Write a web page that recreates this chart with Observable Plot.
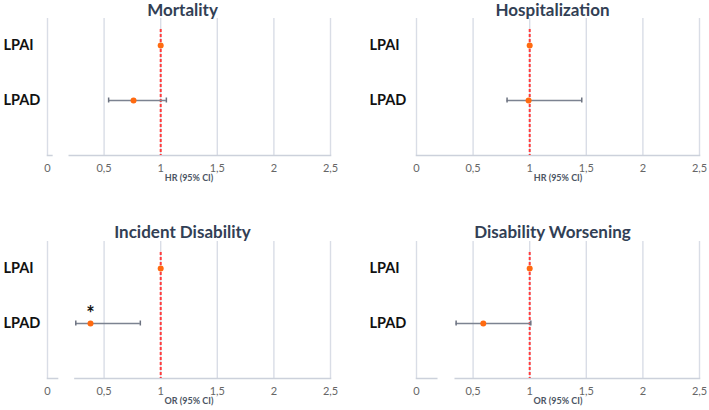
<!DOCTYPE html>
<html>
<head>
<meta charset="utf-8">
<script src="https://cdn.jsdelivr.net/npm/d3@7"></script>
<script src="https://cdn.jsdelivr.net/npm/@observablehq/plot@0.6"></script>
<style>
  html, body { margin: 0; padding: 0; background: #fff; }
  #wrap { position: relative; width: 709px; height: 410px; overflow: hidden; font-family: Lato, "Open Sans", sans-serif; }
  .panel { position: absolute; }
</style>
</head>
<body>
<div id="wrap"></div>
<script>
// ---- data ----
const titles = ["Mortality", "Hospitalization", "Incident Disability", "Disability Worsening"];
const measures = ["HR (95% CI)", "HR (95% CI)", "OR (95% CI)", "OR (95% CI)"];
const rows = ["LPAI", "LPAD"];
const lpaiEst = [1, 1, 1, 1];
const lpadEst = [0.76, 0.99, 0.38, 0.59];
const lpadLow = [0.54, 0.80, 0.25, 0.35];
const lpadHigh = [1.05, 1.46, 0.82, 1.01];
const significant = [false, false, true, false];
const xTicks = [0, 0.5, 1, 1.5, 2, 2.5];
const xTickLabels = ["0", "0,5", "1", "1,5", "2", "2,5"];
const referenceValue = 1;
// baseline axis break (in data units), null = no break
const breakStart = [0.05, null, 0.10, 0.19];
const breakEnd = [0.19, null, 0.24, 0.34];

// ---- layout ----
const W = 354, H = 205;
const places = [
  {left: 0, top: 0, ml: 47, mr: 24, mt: 18, mb: 50, it: 27, ib: 55, tdx: -6.5, tdy: -3},
  {left: 355, top: 0, ml: 61, mr: 10, mt: 18, mb: 50, it: 27, ib: 55, tdx: -5.5, tdy: -3},
  {left: 0, top: 205, ml: 47, mr: 24, mt: 36, mb: 32, it: 26.7, ib: 54.7, tdx: -6.5, tdy: -4},
  {left: 355, top: 205, ml: 61, mr: 10, mt: 36, mb: 32, it: 26.7, ib: 54.7, tdx: -5.5, tdy: -4}
];

const wrap = document.getElementById("wrap");
const font = "Lato, 'Open Sans', sans-serif";

titles.forEach((title, p) => {
  const L = places[p];
  const frameH = H - L.mt - L.mb;
  const points = [
    {row: "LPAI", est: lpaiEst[p]},
    {row: "LPAD", est: lpadEst[p], lo: lpadLow[p], hi: lpadHigh[p]}
  ];
  const ci = points.filter(d => d.lo != null);
  const stars = significant[p] ? [points[1]] : [];
  const gaps = breakStart[p] == null ? [] : [{x1: breakStart[p], x2: breakEnd[p]}];

  const chart = Plot.plot({
    width: W,
    height: H,
    marginLeft: L.ml,
    marginRight: L.mr,
    marginTop: L.mt,
    marginBottom: L.mb,
    style: {fontFamily: font, background: "transparent", overflow: "visible"},
    x: {domain: [0, 2.5], ticks: xTicks},
    y: {type: "point", domain: rows, insetTop: L.it, insetBottom: L.ib, padding: 0, axis: null},
    marks: [
      Plot.ruleX(xTicks, {stroke: "#d9dde6", strokeWidth: 1.4}),
      Plot.frame({anchor: "bottom", stroke: "#ccd1db", strokeWidth: 1.6}),
      Plot.rect(gaps, {x1: "x1", x2: "x2", fill: "white", insetTop: frameH - 3, insetBottom: -3}),
      Plot.axisX({
        ticks: xTicks, tickSize: 0, tickPadding: 9,
        tickFormat: (d) => xTickLabels[xTicks.indexOf(d)],
        fontSize: 11, color: "#666666", label: null
      }),
      Plot.text([measures[p]], {
        frameAnchor: "bottom", dy: 25, text: d => d,
        fontSize: 9, fontWeight: "bold", fill: "#4b5563"
      }),
      Plot.text([title], {
        frameAnchor: "top", dx: L.tdx, dy: L.tdy, lineAnchor: "bottom", text: d => d,
        fontSize: 17, fontWeight: "bold", fill: "#323f55"
      }),
      Plot.text(rows, {
        y: d => d, text: d => d, frameAnchor: "left", textAnchor: "start",
        dx: -(L.ml - (p % 2 === 0 ? 3 : 14)),
        fontSize: 14.5, fontWeight: "bold", fill: "#111"
      }),
      Plot.ruleX([referenceValue], {stroke: "#ff3b3b", strokeWidth: 2, strokeDasharray: "3,2", insetTop: 11}),
      Plot.ruleY(ci, {x1: "lo", x2: "hi", y: "row", stroke: "#7c8391", strokeWidth: 1.5}),
      Plot.ruleX(ci, {x: "lo", y1: "row", y2: "row", insetTop: -2.5, insetBottom: -2.5, stroke: "#6c7280", strokeWidth: 1.5}),
      Plot.ruleX(ci, {x: "hi", y1: "row", y2: "row", insetTop: -2.5, insetBottom: -2.5, stroke: "#6c7280", strokeWidth: 1.5}),
      Plot.dot(points, {x: "est", y: "row", r: 3, fill: "#ff6a10", stroke: "none"}),
      Plot.text(stars, {x: "est", y: "row", text: () => "*", dy: -9, fontSize: 20, fontWeight: "bold", fill: "#111"})
    ]
  });
  chart.classList.add("panel");
  chart.style.left = L.left + "px";
  chart.style.top = L.top + "px";
  wrap.appendChild(chart);
});
</script>
</body>
</html>
